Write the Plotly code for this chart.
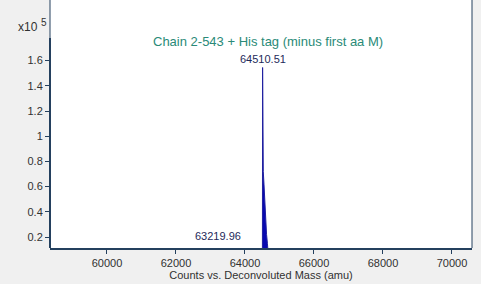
import plotly.graph_objects as go

# Deconvoluted mass spectrum (counts in units of 1e5)
mass = [58400, 63150, 63219.96, 63290, 64440, 64490, 64505, 64510.51, 64516, 64530,
        64550, 64575, 64600, 64625, 64650, 64670, 64690, 70600]
counts = [0, 0, 0.005, 0, 0, 0.03, 0.12, 1.545, 0.76, 0.72,
          0.62, 0.45, 0.32, 0.22, 0.15, 0.1, 0, 0]

peak_labels = ["64510.51", "63219.96"]
peak_mass = [64510.51, 63219.96]

title_text = "Chain 2-543 + His tag (minus first aa M)"
x_title = "Counts vs. Deconvoluted Mass (amu)"
x_ticks = [60000, 62000, 64000, 66000, 68000, 70000]
y_ticks = [0.2, 0.4, 0.6, 0.8, 1.0, 1.2, 1.4, 1.6]
y_tick_text = ["0.2", "0.4", "0.6", "0.8", "1", "1.2", "1.4", "1.6"]

axis_col = "#24405e"
fnt = "Liberation Sans, Arial, sans-serif"

fig = go.Figure()
fig.add_trace(go.Scatter(
    x=mass, y=counts, mode="lines",
    line=dict(color="#2020a0", width=1),
    fill="tozeroy", fillcolor="#0808b0",
    hoverinfo="skip", showlegend=False,
))

fig.update_layout(
    width=481, height=284,
    margin=dict(l=50, r=9, t=0, b=36),
    paper_bgcolor="#f0f0f0", plot_bgcolor="#ffffff",
    font=dict(family=fnt, size=11, color="#303030"),
    xaxis=dict(
        range=[58348, 70580], tickvals=x_ticks, ticktext=[str(v) for v in x_ticks],
        showgrid=False, zeroline=False, showline=True, linecolor=axis_col, linewidth=2,
        ticks="outside", ticklen=4, tickcolor=axis_col, tickwidth=1,
        tickfont=dict(size=11, color="#303030"),
        title=dict(text=x_title, font=dict(size=11, color="#303030"), standoff=2),
    ),
    yaxis=dict(
        range=[0.1127, 2.081], tickvals=y_ticks, ticktext=y_tick_text,
        showgrid=False, zeroline=False, showline=False,
        ticks="outside", ticklen=4, tickcolor=axis_col, tickwidth=1,
        tickfont=dict(size=11, color="#303030"),
    ),
)

# plot frame
fig.add_shape(type="line", xref="paper", yref="paper", x0=1, x1=1, y0=0, y1=1,
              line=dict(color=axis_col, width=1))
fig.add_shape(type="line", xref="paper", yref="paper", x0=0, x1=0, y0=0, y1=1,
              line=dict(color=axis_col, width=1))
fig.add_shape(type="line", xref="paper", yref="y", x0=0, x1=0, y0=0.1127, y1=1.78,
              line=dict(color=axis_col, width=2))

# annotations
fig.add_annotation(x=64510.51, y=1.545, xref="x", yref="y", text=peak_labels[0],
                   showarrow=False, yanchor="bottom", yshift=1,
                   font=dict(size=11, color="#1e2a5a"))
fig.add_annotation(x=63219.96, y=0.113, xref="x", yref="y", text=peak_labels[1],
                   showarrow=False, yanchor="bottom", yshift=4,
                   font=dict(size=11, color="#1e2a5a"))
fig.add_annotation(x=64667, y=1.75, xref="x", yref="y", text=title_text,
                   showarrow=False, yanchor="middle",
                   font=dict(size=13, color="#2a8a78"))
pw = 422.0
ph = 248.0
fig.add_annotation(x=(16 - 50) / pw, y=1 - 27 / ph, xref="paper", yref="paper", text="x10",
                   showarrow=False, xanchor="left", yanchor="middle",
                   font=dict(size=12, color="#303030"))
fig.add_annotation(x=(39 - 50) / pw, y=1 - 22 / ph, xref="paper", yref="paper", text="5",
                   showarrow=False, xanchor="left", yanchor="middle",
                   font=dict(size=10, color="#303030"))

fig.write_html("out.html")
